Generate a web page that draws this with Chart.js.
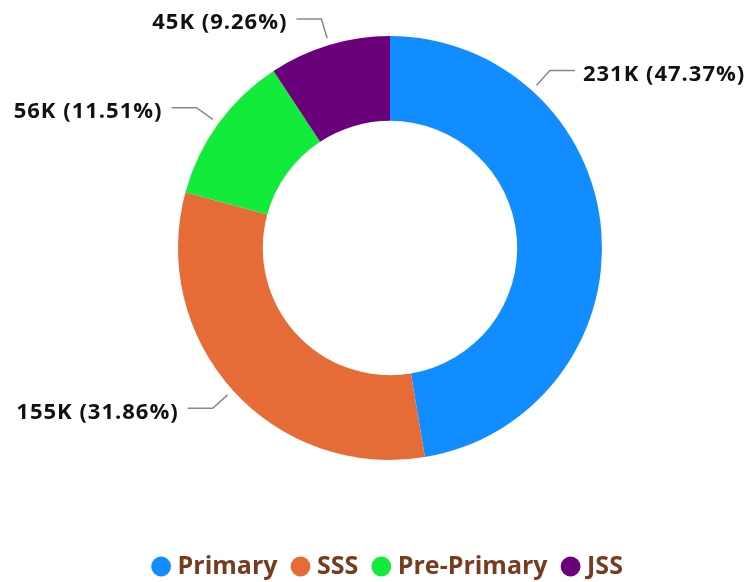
<!DOCTYPE html>
<html>
<head>
<meta charset="utf-8">
<script src="https://cdn.jsdelivr.net/npm/chart.js@4.4.0/dist/chart.umd.min.js"></script>
<style>
  html, body { margin: 0; padding: 0; background: #fff; }
  #wrap { width: 752px; height: 582px; }
</style>
</head>
<body>
<div id="wrap"><canvas id="donut"></canvas></div>
<script>
// enrolment by level
const categories = ['Primary', 'SSS', 'Pre-Primary', 'JSS'];
const enrolment = [230930, 155320, 56110, 45140];
const colours = ['#118DFF', '#E66C37', '#12EB3A', '#6B007B'];

// where each leader line leaves its slice, degrees clockwise from top (null = middle)
const labelAngle = [42, null, null, null];

const leaderLabels = {
  id: 'leaderLabels',
  afterDatasetsDraw(chart) {
    const ctx = chart.ctx;
    const data = chart.data.datasets[0].data;
    const total = data.reduce((a, b) => a + b, 0);
    chart.getDatasetMeta(0).data.forEach((arc, i) => {
      const p = arc.getProps(['x', 'y', 'startAngle', 'endAngle', 'outerRadius'], true);
      let a = (p.startAngle + p.endAngle) / 2;
      if (labelAngle[i] != null) a = (labelAngle[i] - 90) * Math.PI / 180;
      const cos = Math.cos(a), sin = Math.sin(a);
      const x0 = p.x + cos * (p.outerRadius + 7), y0 = p.y + sin * (p.outerRadius + 7);
      const x1 = p.x + cos * (p.outerRadius + 27), y1 = p.y + sin * (p.outerRadius + 27);
      const right = cos >= 0;
      const x2 = x1 + (right ? 25 : -25);

      ctx.save();
      ctx.strokeStyle = '#888';
      ctx.lineWidth = 1.5;
      ctx.beginPath();
      ctx.moveTo(x0, y0);
      ctx.lineTo(x1, y1);
      ctx.lineTo(x2, y1);
      ctx.stroke();

      const v = data[i];
      const txt = Math.round(v / 1000) + 'K (' + (v / total * 100).toFixed(2) + '%)';
      ctx.font = 'bold 22px "Open Sans"';
      ctx.letterSpacing = '1px';
      ctx.fillStyle = '#111';
      ctx.textBaseline = 'middle';
      ctx.textAlign = right ? 'left' : 'right';
      ctx.fillText(txt, x2 + (right ? 8 : -9), y1 + 4);
      ctx.restore();
    });
  }
};

// push the legend to the foot of the canvas
const legendDown = {
  id: 'legendDown',
  afterLayout(chart) {
    const lg = chart.legend;
    const dy = 535 - lg.top;
    lg.top += dy;
    lg.bottom += dy;
  }
};

Chart.defaults.font.family = '"Open Sans", sans-serif';

new Chart(document.getElementById('donut'), {
  type: 'doughnut',
  data: {
    labels: categories,
    datasets: [{
      data: enrolment,
      backgroundColor: colours,
      borderWidth: 0,
      hoverOffset: 0
    }]
  },
  options: {
    responsive: true,
    maintainAspectRatio: false,
    animation: false,
    cutout: '60%',
    layout: { padding: { top: 36, left: 28, right: 0, bottom: 68 } },
    plugins: {
      tooltip: { enabled: false },
      legend: {
        position: 'bottom',
        labels: {
          usePointStyle: true,
          pointStyle: 'circle',
          boxWidth: 8,
          boxHeight: 14,
          padding: 19,
          color: '#773B1F',
          font: { size: 25, weight: 'bold' }
        }
      }
    }
  },
  plugins: [leaderLabels, legendDown]
});
</script>
</body>
</html>
